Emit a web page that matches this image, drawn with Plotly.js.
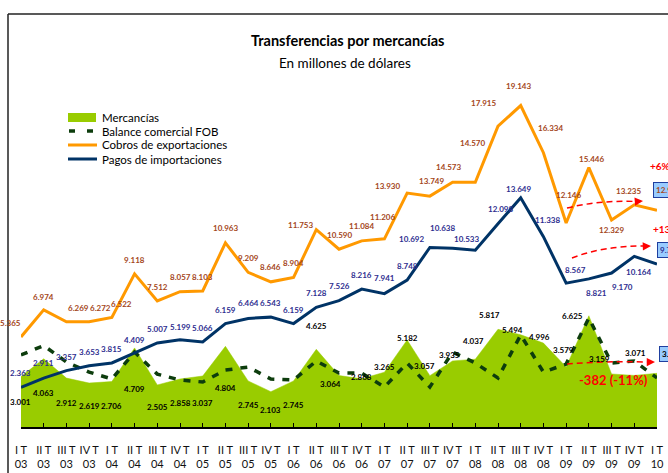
<!DOCTYPE html>
<html>
<head>
<meta charset="utf-8">
<script src="https://cdn.plot.ly/plotly-3.0.1.min.js"></script>
<style>html,body{margin:0;padding:0;background:#fff;}#chart{width:668px;height:473px;}</style>
</head>
<body>
<div id="chart"></div>
<script>
// ---- data (millones de dólares) ----
const categories = ["I T 03","II T 03","III T 03","IV T 03","I T 04","II T 04","III T 04","IV T 04",
  "I T 05","II T 05","III T 05","IV T 05","I T 06","II T 06","III T 06","IV T 06",
  "I T 07","II T 07","III T 07","IV T 07","I T 08","II T 08","III T 08","IV T 08",
  "I T 09","II T 09","III T 09","IV T 09","I T 10"];
const cobrosExportaciones = [5365,6974,6269,6272,6522,9118,7512,8057,8103,10963,9209,8646,8904,11753,10590,11084,11206,13930,13749,14573,14570,17915,19143,16334,12146,15446,12329,13235,12905];
const pagosImportaciones = [2363,2911,3357,3653,3815,4409,5007,5199,5066,6159,6464,6543,6159,7128,7526,8216,7941,8748,10692,10638,10533,12098,13649,11338,8567,8821,9170,10164,9708];
const mercancias = [3001,4063,2912,2619,2706,4709,2505,2858,3037,4804,2745,2103,2745,4625,3064,2868,3265,5182,3057,3935,4037,5817,5494,4996,3579,6625,3159,3071,3197];
const balanceFOB = [4290,4850,3870,3270,2860,4460,3150,2800,2680,3390,3570,2860,2800,3930,3210,3210,2380,3810,2380,4460,3810,2920,5480,3270,3750,6490,3810,3930,2920];
const variaciones = {exp:"+6%", imp:"+13%", merc:"-382 (-11%)"};

// ---- label placement (pixel offsets: dx right, dy down) ----
const expOff = [[-11,-14],[0,-13],[12,-14],[11,-14],[10,-13],[0,-14],[0,-14],[0,-15],[0,-14],[0,-15],[0,-14],[0,-15],[0,-14],[-16,-5],[0,-14],[0,-15],[-2,-22],[-20,-7],[2,-15],[-4,-15],[-3,-39],[-15,-23],[-2,-20],[7,-25],[2,-28],[3,-9],[0,10],[-6,-14],[11.5,-20]];
const impOff = [[-1,-14],[0,-15],[0,-14],[0,-14],[0,-14],[0,-13],[0,-14],[0,-13],[0,-14],[0,-14],[0,-15],[0,-14],[0,-14],[0,-14],[0,-15],[0,-14],[0,-16],[0,-14],[-18,-8],[-10,-20],[-9,-11],[2,-15],[-2,-9],[4,-17],[9,-13],[8,14],[11,14],[4,16],[13.5,-14]];
const merOff = [[-1,25],[0,34],[0,25],[0,23],[0,24],[0,41],[0,22],[0,24],[0,27],[0,42],[0,24],[0,18],[0,24],[0,-23],[-9,8],[0,-2],[0,-5],[0,-2],[-5,-10],[-3,-6],[-2,-18],[-9,-14],[-8,-5],[-4,-6],[-3,-17],[-16,0],[-12,-15],[1,-22],[15.5,-19]];

const N = categories.length;
const idx = categories.map((_, i) => i);
const ticktext = categories.map(c => { const k = c.lastIndexOf(" "); return c.slice(0, k) + "<br>" + c.slice(k + 1); });

// geometry helpers (plot area: x 21..657 px, y 24..427 px)
const L = 21, R = 11, T = 24, B = 46, W = 668, H = 473;
const PW = W - L - R, PH = H - T - B;
const YMAX = 24000;
const px = x => (x - L) / PW;          // pixel -> paper x
const py = y => (H - B - y) / PH;      // pixel -> paper y
const dx = x => (x - L) / PW * (N - 1); // pixel -> data x
const dy = y => (H - B - y) / PH * YMAX; // pixel -> data y

const fmt = v => { const s = String(Math.round(v)); return s.length > 3 ? s.slice(0, s.length - 3) + "." + s.slice(-3) : s; };
const FONT = "Lato, 'Open Sans', sans-serif";

const cGreen = "#99cc00", cDash = "#0d3d0d", cOrange = "#ff9900", cNavy = "#003366";
const cExpLbl = "#a4461a", cImpLbl = "#2e2e8f", cMerLbl = "#000000", cRed = "#ff0000";

const traces = [
  {x: idx, y: mercancias, type: "scatter", mode: "lines", fill: "tozeroy", fillcolor: cGreen,
   line: {color: cGreen, width: 0.5}, hoverinfo: "skip", name: "Mercancías"},
  {x: idx, y: balanceFOB, type: "scatter", mode: "lines",
   line: {color: cDash, width: 3.5, dash: "7px,8px"}, name: "Balance comercial FOB"},
  {x: idx, y: cobrosExportaciones, type: "scatter", mode: "lines",
   line: {color: cOrange, width: 3}, name: "Cobros de exportaciones"},
  {x: idx, y: pagosImportaciones, type: "scatter", mode: "lines",
   line: {color: cNavy, width: 3}, name: "Pagos de importaciones"}
];

const ann = [];
function addLabels(vals, offs, color) {
  vals.forEach((v, i) => {
    const last = i === N - 1;
    const a = {x: i, y: v, xref: "x", yref: "y", text: "<b>" + fmt(v) + "</b>", showarrow: false,
      xanchor: "center", yanchor: "middle",
      xshift: offs[i][0], yshift: -offs[i][1], font: {family: FONT, size: 8, color: color}};
    if (last) { a.bgcolor = "#99ccff"; a.bordercolor = "#1f3f9f"; a.borderwidth = 1; a.borderpad = 2; }
    ann.push(a);
  });
}
addLabels(cobrosExportaciones, expOff, cExpLbl);
addLabels(pagosImportaciones, impOff, cImpLbl);
addLabels(mercancias, merOff, cMerLbl);

// titles
ann.push({xref: "paper", yref: "paper", x: px(347), y: py(40), xanchor: "center", text: "<b>Transferencias por mercancías</b>", showarrow: false,
  font: {family: FONT, size: 14.5, color: "#000"}, yanchor: "middle"});
ann.push({xref: "paper", yref: "paper", x: px(345), y: py(63), xanchor: "center", text: "En millones de dólares", showarrow: false,
  font: {family: FONT, size: 13.5, color: "#000"}, yanchor: "middle"});

// legend texts
const legNames = ["Mercancías", "Balance comercial FOB", "Cobros de exportaciones", "Pagos de importaciones"];
const legY = [118, 131, 145, 159];
legNames.forEach((t, k) => ann.push({xref: "paper", yref: "paper", x: px(100), y: py(legY[k]), xanchor: "left", yanchor: "middle",
  text: t, showarrow: false, font: {family: FONT, size: 11.5, color: "#000"}}));

// variation texts
ann.push({xref: "paper", yref: "paper", x: px(648), y: py(166), xanchor: "left", yanchor: "middle", text: "<b>" + variaciones.exp + "</b>",
  showarrow: false, font: {family: FONT, size: 10, color: cRed}});
ann.push({xref: "paper", yref: "paper", x: px(651), y: py(229), xanchor: "left", yanchor: "middle", text: "<b>" + variaciones.imp + "</b>",
  showarrow: false, font: {family: FONT, size: 10, color: cRed}});
ann.push({xref: "paper", yref: "paper", x: px(613), y: py(380), xanchor: "center", yanchor: "middle", text: "<b>" + variaciones.merc + "</b>",
  showarrow: false, font: {family: FONT, size: 13, color: cRed}});

// arrow heads
[[643, 201, -8, 0.6], [651, 246, -8, 0.3], [655, 362, -8, 0]].forEach(a => ann.push({
  xref: "x", yref: "y", x: dx(a[0]), y: dy(a[1]), ax: a[2], ay: a[3], text: "", showarrow: true,
  arrowhead: 2, arrowsize: 1.1, arrowwidth: 1.5, arrowcolor: cRed}));

const shapes = [];
// frame
shapes.push({type: "line", xref: "paper", yref: "paper", x0: px(8), x1: px(8), y0: py(14), y1: py(490), line: {color: "#222", width: 1.5}});
shapes.push({type: "line", xref: "paper", yref: "paper", x0: px(8), x1: px(700), y0: py(14), y1: py(14), line: {color: "#222", width: 1.5}});
// legend symbols
shapes.push({type: "rect", xref: "paper", yref: "paper", x0: px(68), x1: px(96), y0: py(113), y1: py(122), fillcolor: cGreen, line: {width: 0}});
shapes.push({type: "line", xref: "paper", yref: "paper", x0: px(69), x1: px(75), y0: py(131), y1: py(131), line: {color: cDash, width: 3.5}});
shapes.push({type: "line", xref: "paper", yref: "paper", x0: px(87), x1: px(93), y0: py(131), y1: py(131), line: {color: cDash, width: 3.5}});
shapes.push({type: "line", xref: "paper", yref: "paper", x0: px(68), x1: px(97), y0: py(145), y1: py(145), line: {color: cOrange, width: 3}});
shapes.push({type: "line", xref: "paper", yref: "paper", x0: px(68), x1: px(97), y0: py(159), y1: py(159), line: {color: cNavy, width: 3}});
// red dashed curved arrows
function curve(x0, y0, cx, cy, x1, y1) {
  return {type: "path", xref: "x", yref: "y", layer: "above",
    path: `M ${dx(x0)},${dy(y0)} Q ${dx(cx)},${dy(cy)} ${dx(x1)},${dy(y1)}`,
    line: {color: cRed, width: 1.5, dash: "6px,4px"}};
}
shapes.push(curve(567, 208, 600, 200, 636, 201.5));
shapes.push(curve(572, 258, 602, 246, 644, 246));
shapes.push(curve(567, 364, 605, 361, 648, 362));

const layout = {
  width: W, height: H,
  margin: {l: L, r: R, t: T, b: B, pad: 0},
  paper_bgcolor: "#fff", plot_bgcolor: "rgba(0,0,0,0)",
  showlegend: false,
  font: {family: FONT, color: "#000"},
  xaxis: {range: [0, N - 1], tickmode: "array", tickvals: idx, ticktext: ticktext,
    ticks: "inside", ticklen: 4, tickwidth: 1, tickcolor: "#000",
    showline: true, linecolor: "#000", linewidth: 1.5, showgrid: false, zeroline: false,
    tickfont: {family: FONT, size: 11, color: "#111"}, ticklabelstandoff: 12, fixedrange: true},
  yaxis: {range: [0, YMAX], visible: false, showgrid: false, zeroline: false, fixedrange: true},
  annotations: ann,
  shapes: shapes
};

Plotly.newPlot("chart", traces, layout, {staticPlot: true, displayModeBar: false});
</script>
</body>
</html>
